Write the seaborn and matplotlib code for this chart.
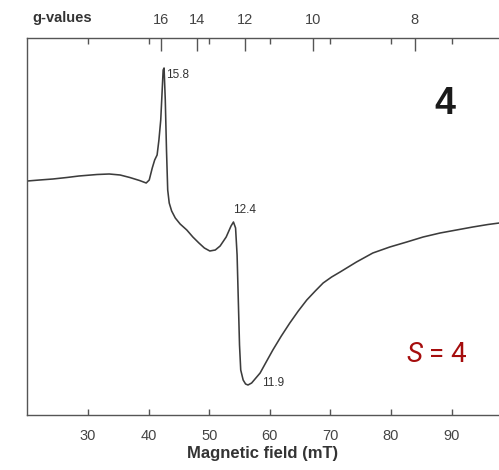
import matplotlib
matplotlib.use("Agg")
import matplotlib.pyplot as plt
import seaborn as sns
import pandas as pd

# ---- data ----
field_mT = [20.0, 22.0, 24.2, 26.5, 28.5, 31.5, 33.5, 35.3, 36.9, 38.5, 39.6, 40.1,
            40.6, 41.0, 41.4, 41.7, 42.0, 42.2, 42.4, 42.55, 42.75, 42.95, 43.15,
            43.4, 43.8, 44.4, 45.2, 46.3, 47.3, 48.3, 49.2, 50.1, 51.0, 51.8, 52.8,
            53.6, 54.0, 54.35, 54.6, 54.8, 55.0, 55.2, 55.6, 56.0, 56.4, 57.0, 57.7,
            58.4, 59.4, 60.5, 61.9, 63.3, 64.7, 66.1, 67.5, 68.8, 70.2, 71.6, 74.3,
            77.0, 79.8, 82.6, 85.3, 88.1, 90.8, 93.5, 96.0, 98.5]
signal = [0.0, 1.0, 2.0, 3.5, 5.0, 6.5, 7.0, 6.0, 3.5, 0.5, -2.0, 1.0,
          13.0, 21.0, 26.0, 41.0, 61.0, 86.0, 111.0, 113.0, 81.0, 31.0, -9.0,
          -22.0, -30.0, -37.0, -43.0, -49.0, -56.0, -62.0, -67.0, -70.0, -69.0, -65.0, -56.0,
          -45.0, -41.0, -47.0, -74.0, -119.0, -164.0, -189.0, -199.0, -203.0, -204.0, -202.0, -197.0,
          -192.0, -181.0, -169.0, -155.0, -142.0, -130.0, -119.0, -110.0, -102.0, -96.0, -91.0, -81.0,
          -72.0, -66.0, -61.0, -56.0, -52.0, -49.0, -46.0, -43.5, -41.5]

x_ticks = [30, 40, 50, 60, 70, 80, 90]
g_ticks = [16, 14, 12, 10, 8]
g_const = 671.5  # h*nu/muB in mT

peak_labels = ["15.8", "12.4", "11.9"]
peak_pos = [(42.9, 106.0), (53.9, -29.0), (58.7, -202.0)]

sns.set_style("ticks")
plt.rcParams["font.family"] = ["Liberation Sans", "DejaVu Sans"]
plt.rcParams["mathtext.fontset"] = "custom"
plt.rcParams["mathtext.it"] = "Roboto:italic"
plt.rcParams["mathtext.rm"] = "Roboto"

W, H = 499, 470
fig = plt.figure(figsize=(W / 100, H / 100), dpi=100)
ax = fig.add_axes([27 / W, (H - 415) / H, 1 - 27 / W, (415 - 38) / H])

df = pd.DataFrame({"B": field_mT, "I": signal})
sns.lineplot(data=df, x="B", y="I", ax=ax, color="#3c3c3c", lw=1.15,
             estimator=None, sort=False)

x_right = 30 + (499 - 88) / 6.06
ax.set_xlim(20 - 0.07, x_right)
ax.set_ylim(181 - 415, 181 - 38)

edge = "#555555"
for side in ["left", "bottom", "top"]:
    ax.spines[side].set_color(edge)
    ax.spines[side].set_linewidth(1.0)
ax.spines["right"].set_visible(False)

ax.set_yticks([])
ax.set_ylabel("")
ax.set_xlabel("Magnetic field (mT)", fontsize=12, fontweight="bold",
              color="#333333", labelpad=2)

ax2 = ax.twiny()
ax2.set_xlim(ax.get_xlim())
ax2.set_xticks([g_const / g for g in g_ticks])
ax2.set_xticklabels([str(g) for g in g_ticks])
ax2.tick_params(axis="x", direction="in", length=9, width=1.0, color=edge,
                labelsize=10.5, labelcolor="#444444", pad=8)
for s in ax2.spines.values():
    s.set_visible(False)

ax.set_xticks(x_ticks)
ax.set_xticklabels([str(t) for t in x_ticks])
ax.tick_params(axis="x", direction="in", bottom=True, top=True, labeltop=False,
               labelbottom=True, length=4, width=1.0,
               color=edge, labelsize=10.5, labelcolor="#444444", pad=10)

fig.text(32 / W, 1 - 18 / H, "g-values", fontsize=10.5, fontweight="bold",
         color="#333333", ha="left", va="center")

for lab, (bx, iy) in zip(peak_labels, peak_pos):
    ax.text(bx, iy, lab, fontsize=8.5, color="#333333", ha="left", va="center")

fig.text(445 / W, 1 - 104 / H, "4", fontsize=27, fontweight="bold",
         family="Liberation Sans", color="#1a1a1a", ha="center", va="center")
fig.text(437 / W, 1 - 355 / H, r"$\mathit{S}$ = 4", fontsize=20,
         family="Roboto", color="#a50d0d", ha="center", va="center")

fig.savefig("out.png", dpi=100)
